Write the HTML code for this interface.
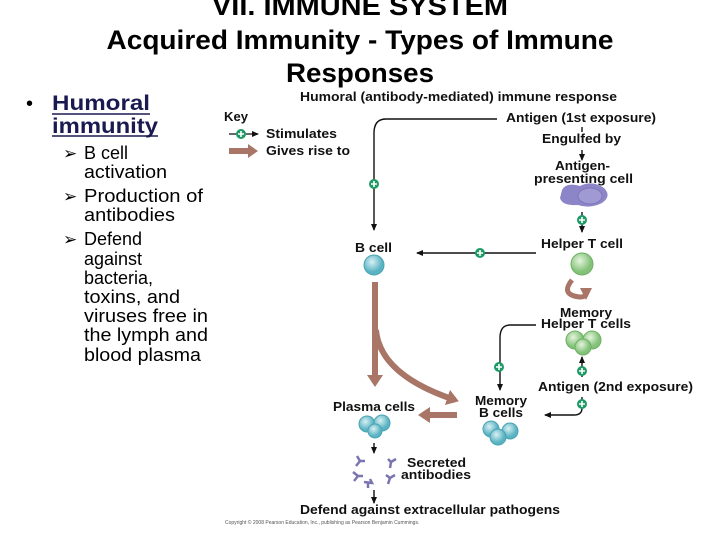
<!DOCTYPE html>
<html><head><meta charset="utf-8"><style>
body{margin:0;width:720px;height:540px;background:#fff;overflow:hidden;font-family:"Liberation Sans",sans-serif}
</style></head><body>
<svg width="720" height="540" viewBox="0 0 720 540" xmlns="http://www.w3.org/2000/svg" font-family="Liberation Sans, sans-serif">
<defs>
<marker id="a" markerWidth="8" markerHeight="8" refX="6" refY="3" orient="auto" markerUnits="userSpaceOnUse"><path d="M0,0 L7,3 L0,6 Z" fill="#111"/></marker>
<marker id="b" markerWidth="20" markerHeight="20" refX="8" refY="8" orient="auto" markerUnits="userSpaceOnUse"><path d="M0,0 L12,8 L0,16 Z" fill="#a87566"/></marker>
<radialGradient id="bc" cx="40%" cy="35%"><stop offset="0" stop-color="#d8f0f4"/><stop offset="1" stop-color="#5ab3c2"/></radialGradient>
<radialGradient id="gc" cx="40%" cy="35%"><stop offset="0" stop-color="#e4f5dc"/><stop offset="1" stop-color="#84c27a"/></radialGradient>
<g id="p"><circle r="5" fill="#1f9a66"/><path d="M-3,0H3M0,-3V3" stroke="#fff" stroke-width="1.6"/></g>
</defs>
<g font-weight="bold" font-size="27" text-anchor="middle" fill="#000">
<text x="360" y="15" textLength="296" lengthAdjust="spacingAndGlyphs">VII.  IMMUNE SYSTEM</text>
<text x="360" y="49" textLength="507" lengthAdjust="spacingAndGlyphs">Acquired Immunity - Types of Immune</text>
<text x="360" y="82" textLength="148" lengthAdjust="spacingAndGlyphs">Responses</text>
</g>
<text x="26" y="110" font-size="20" fill="#000">•</text>
<g font-size="21" font-weight="bold" fill="#1a1a50"><text x="52" y="110" textLength="98" lengthAdjust="spacingAndGlyphs">Humoral</text><text x="52" y="133" textLength="106" lengthAdjust="spacingAndGlyphs">immunity</text></g>
<line x1="52" y1="114" x2="150" y2="114" stroke="#1a1a50" stroke-width="1.5"/>
<line x1="52" y1="136" x2="158" y2="136" stroke="#1a1a50" stroke-width="1.5"/>
<g font-size="18" fill="#000">
<g font-size="17"><text x="63" y="159">➢</text><text x="63" y="202">➢</text><text x="63" y="245">➢</text></g>
<text x="84" y="159">B cell</text><text x="84" y="178" textLength="83" lengthAdjust="spacingAndGlyphs">activation</text>
<text x="84" y="202" textLength="119" lengthAdjust="spacingAndGlyphs">Production of</text><text x="84" y="221" textLength="91" lengthAdjust="spacingAndGlyphs">antibodies</text>
<text x="84" y="245">Defend</text><text x="84" y="265">against</text><text x="84" y="284">bacteria,</text><text x="84" y="303" textLength="96" lengthAdjust="spacingAndGlyphs">toxins, and</text><text x="84" y="322" textLength="124" lengthAdjust="spacingAndGlyphs">viruses free in</text><text x="84" y="341" textLength="124" lengthAdjust="spacingAndGlyphs">the lymph and</text><text x="84" y="361" textLength="117" lengthAdjust="spacingAndGlyphs">blood plasma</text>
</g>
<g font-size="12.5" font-weight="bold" fill="#111">
<text x="300" y="101" textLength="317" lengthAdjust="spacingAndGlyphs">Humoral (antibody-mediated) immune response</text>
<text x="224" y="121" textLength="24" lengthAdjust="spacingAndGlyphs">Key</text>
<text x="266" y="138" textLength="71" lengthAdjust="spacingAndGlyphs">Stimulates</text>
<text x="266" y="155" textLength="84" lengthAdjust="spacingAndGlyphs">Gives rise to</text>
<text x="506" y="122" textLength="150" lengthAdjust="spacingAndGlyphs">Antigen (1st exposure)</text>
<text x="542" y="143" textLength="79" lengthAdjust="spacingAndGlyphs">Engulfed by</text>
<text x="555" y="170" textLength="55" lengthAdjust="spacingAndGlyphs">Antigen-</text>
<text x="534" y="183" textLength="99" lengthAdjust="spacingAndGlyphs">presenting cell</text>
<text x="541" y="248" textLength="82" lengthAdjust="spacingAndGlyphs">Helper T cell</text>
<text x="355" y="252" textLength="37" lengthAdjust="spacingAndGlyphs">B cell</text>
<text x="560" y="317" textLength="52" lengthAdjust="spacingAndGlyphs">Memory</text>
<text x="541" y="328" textLength="90" lengthAdjust="spacingAndGlyphs">Helper T cells</text>
<text x="538" y="391" textLength="155" lengthAdjust="spacingAndGlyphs">Antigen (2nd exposure)</text>
<text x="475" y="405" textLength="52" lengthAdjust="spacingAndGlyphs">Memory</text>
<text x="479" y="417" textLength="44" lengthAdjust="spacingAndGlyphs">B cells</text>
<text x="333" y="411" textLength="82" lengthAdjust="spacingAndGlyphs">Plasma cells</text>
<text x="407" y="467" textLength="59" lengthAdjust="spacingAndGlyphs">Secreted</text>
<text x="401" y="479" textLength="70" lengthAdjust="spacingAndGlyphs">antibodies</text>
<text x="300" y="514" textLength="260" lengthAdjust="spacingAndGlyphs">Defend against extracellular pathogens</text>
</g>
<text x="225" y="524" font-size="5" fill="#555">Copyright © 2008 Pearson Education, Inc., publishing as Pearson Benjamin Cummings.</text>
<line x1="229" y1="134" x2="258" y2="134" stroke="#111" stroke-width="1.3" marker-end="url(#a)"/><use href="#p" x="241" y="134"/>
<path d="M229,148H248V144L258,151L248,158V154H229Z" fill="#a87566"/>
<g fill="none" stroke="#111" stroke-width="1.4">
<path d="M497,119H386Q374,119 374,133V230" marker-end="url(#a)"/>
<path d="M582,127V132"/>
<path d="M582,150V160" marker-end="url(#a)"/>
<path d="M582,212V232" marker-end="url(#a)"/>
<path d="M536,253H417" marker-end="url(#a)"/>
<path d="M536,325H510Q500,325 500,338V390" marker-end="url(#a)"/>
<path d="M582,377V357" marker-end="url(#a)"/>
<path d="M582,397V408Q582,415 574,415H545" marker-end="url(#a)"/>
<path d="M374,443V453" marker-end="url(#a)"/>
<path d="M374,490V503" marker-end="url(#a)"/>
</g>
<use href="#p" x="374" y="184"/><use href="#p" x="582" y="220"/><use href="#p" x="480" y="253"/>
<use href="#p" x="499" y="367"/><use href="#p" x="582" y="371"/><use href="#p" x="582" y="404"/>
<g fill="none" stroke="#a87566" stroke-width="6">
<path d="M375,282V383" marker-end="url(#b)"/>
<path d="M376,330Q380,375 455,400" marker-end="url(#b)"/>
<path d="M457,415H422" marker-end="url(#b)"/>
<path d="M572,280Q560,295 580,297Q588,297 586,290" stroke-width="5"/>
</g>
<path d="M580,288L592,288L586,300Z" fill="#a87566"/>
<path d="M562,190Q566,182 580,186Q592,180 604,188Q612,196 602,203Q590,209 578,205Q562,206 560,198Z" fill="#8c86c8"/>
<ellipse cx="590" cy="196" rx="12" ry="8" fill="#9f99d4" stroke="#7d77b8"/>
<circle cx="374" cy="265" r="10" fill="url(#bc)" stroke="#4aa3b3"/>
<circle cx="582" cy="264" r="11" fill="url(#gc)" stroke="#6db064"/>
<circle cx="575" cy="340" r="9" fill="url(#gc)" stroke="#6db064"/><circle cx="592" cy="340" r="9" fill="url(#gc)" stroke="#6db064"/><circle cx="583" cy="347" r="8" fill="url(#gc)" stroke="#6db064"/>
<circle cx="367" cy="424" r="8" fill="url(#bc)" stroke="#4aa3b3"/><circle cx="382" cy="423" r="8" fill="url(#bc)" stroke="#4aa3b3"/><circle cx="375" cy="431" r="7" fill="url(#bc)" stroke="#4aa3b3"/>
<circle cx="491" cy="429" r="8" fill="url(#bc)" stroke="#4aa3b3"/><circle cx="510" cy="431" r="8" fill="url(#bc)" stroke="#4aa3b3"/><circle cx="498" cy="437" r="8" fill="url(#bc)" stroke="#4aa3b3"/>
<g stroke="#7a74b0" stroke-width="2.5" fill="none">
<path d="M357,456L360,461L356,466M360,461H365"/><path d="M388,459L391,462L396,459M391,462L390,468"/>
<path d="M353,472L358,476L354,481M358,476H363"/><path d="M364,482L372,483L370,479M368,483V488"/><path d="M386,475L390,478L395,475M390,478L388,484"/>
</g>
</svg>
</body></html>
